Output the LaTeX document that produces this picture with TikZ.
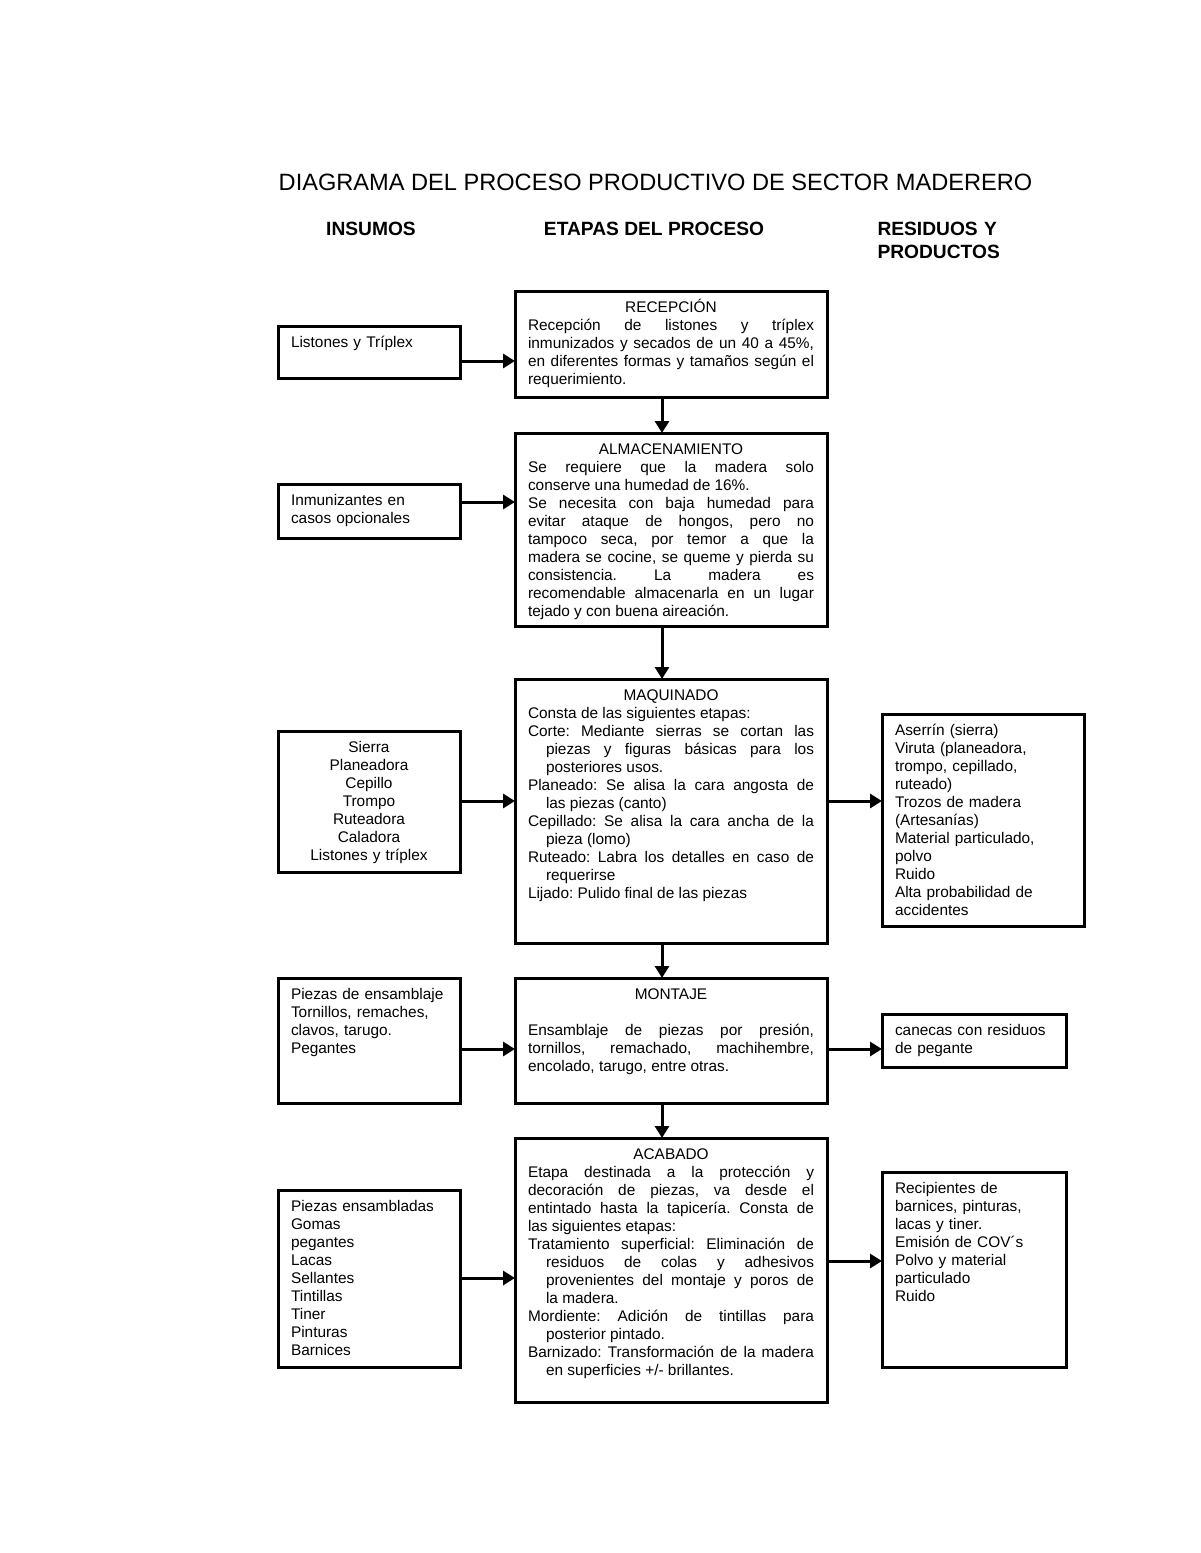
\documentclass[tikz,border=0pt]{standalone}
\usepackage{fontspec}
\setmainfont{Liberation Sans}
\usepackage{tikz}
\usetikzlibrary{positioning, arrows.meta}
\setlength{\parindent}{0pt}
\setlength{\parskip}{0pt}
\tolerance=10000
\hbadness=10000
\frenchspacing
\newcommand{\sangria}{\hangindent=9pt\hangafter=1\relax}

\begin{document}
\begin{tikzpicture}[x=0.5pt, y=-0.5pt, line width=1.5pt,
  etapa node/.style={rectangle,draw,text width=143pt,inner xsep=6.5pt,inner ysep=3.5pt,
    text height=7pt,outer sep=0pt,align=justify,font=\fontsize{7.7}{9}\selectfont},
  insumo node/.style={rectangle,draw,anchor=north west,text width=78pt,inner xsep=6.5pt,inner ysep=3.5pt,
    text height=7pt,outer sep=0pt,align=left,font=\fontsize{7.7}{9}\selectfont},
  residuo node/.style={insumo node,text width=79pt},
  encabezado/.style={inner sep=0pt,font=\fontsize{9.6}{11.5}\selectfont\bfseries},
  flecha/.style={-{Triangle[length=6pt,width=7pt]},line width=1.5pt}]

\useasboundingbox (0,0) rectangle (1200,1553);

% titulos
\node[inner sep=0pt, anchor=base, font=\fontsize{11.8}{14}\selectfont] (titulo) at (655.5,190) {DIAGRAMA DEL PROCESO PRODUCTIVO DE SECTOR MADERERO};
\node[encabezado, anchor=base] (hinsumos) at (371,235) {INSUMOS};
\node[encabezado, anchor=base] (hetapas) at (654,235) {ETAPAS DEL PROCESO};
\node[encabezado, anchor=base west, text width=80pt, align=left] (hresiduos) at (876,235) {RESIDUOS Y\\PRODUCTOS};

% etapas del proceso
\node[etapa node, anchor=north west, text depth=39pt] (rec) at (515,291) {\centerline{RECEPCIÓN}
Recepción de listones y tríplex\linebreak
inmunizados y secados de un 40 a 45\%,\linebreak
en diferentes formas y tamaños según el\linebreak
requerimiento.\par};
\node[etapa node, text depth=82.5pt] (alm) [below=18pt of rec] {\centerline{ALMACENAMIENTO}
Se requiere que la madera solo\linebreak
conserve una humedad de 16\%.\par
Se necesita con baja humedad para\linebreak
evitar ataque de hongos, pero no\linebreak
tampoco seca, por temor a que la\linebreak
madera se cocine, se queme y pierda su\linebreak
consistencia. La madera es\linebreak
recomendable almacenarla en un lugar\linebreak
tejado y con buena aireación.\par};
\node[etapa node, text depth=118pt] (maq) [below=26.5pt of alm] {\centerline{MAQUINADO}
Consta de las siguientes etapas:\par
\sangria Corte: Mediante sierras se cortan las\linebreak
piezas y figuras básicas para los\linebreak
posteriores usos.\par
\sangria Planeado: Se alisa la cara angosta de\linebreak
las piezas (canto)\par
\sangria Cepillado: Se alisa la cara ancha de la\linebreak
pieza (lomo)\par
\sangria Ruteado: Labra los detalles en caso de\linebreak
requerirse\par
\sangria Lijado: Pulido final de las piezas\par};
\node[etapa node, text depth=48.5pt] (mon) [below=17.5pt of maq] {\centerline{MONTAJE}\vskip9pt
Ensamblaje de piezas por presión,\linebreak
tornillos, remachado, machihembre,\linebreak
encolado, tarugo, entre otras.\par};
\node[etapa node, text depth=118pt] (aca) [below=17.5pt of mon] {\centerline{ACABADO}
Etapa destinada a la protección y\linebreak
decoración de piezas, va desde el\linebreak
entintado hasta la tapicería. Consta de\linebreak
las siguientes etapas:\par
\sangria Tratamiento superficial: Eliminación de\linebreak
residuos de colas y adhesivos\linebreak
provenientes del montaje y poros de\linebreak
la madera.\par
\sangria Mordiente: Adición de tintillas para\linebreak
posterior pintado.\par
\sangria Barnizado: Transformación de la madera\linebreak
en superficies +/- brillantes.\par};

% insumos
\node[insumo node, text depth=12pt] (in1) at (278,326) {Listones y Tríplex};
\node[insumo node, text depth=13pt] (in2) at (278,484) {Inmunizantes en\\casos opcionales};
\node[insumo node, text depth=56.5pt, align=center] (in3) at (278,731) {Sierra\\Planeadora\\Cepillo\\Trompo\\Ruteadora\\Caladora\\Listones y tríplex};
\node[insumo node, text depth=48.5pt] (in4) at (278,978) {Piezas de ensamblaje\\Tornillos, remaches,\\clavos, tarugo.\\Pegantes};
\node[insumo node, text depth=74.5pt] (in5) at (278,1190) {Piezas ensambladas\\Gomas\\pegantes\\Lacas\\Sellantes\\Tintillas\\Tiner\\Pinturas\\Barnices};

% residuos y productos
\node[residuo node, text width=88pt, text depth=92pt] (out1) at (882,714) {Aserrín (sierra)\\Viruta (planeadora,\\trompo, cepillado,\\ruteado)\\Trozos de madera\\(Artesanías)\\Material particulado,\\polvo\\Ruido\\Alta probabilidad de\\accidentes};
\node[residuo node, text depth=12.5pt] (out2) at (882,1014) {canecas con residuos\\de pegante};
\node[residuo node, text depth=83.5pt] (out3) at (882,1172) {Recipientes de\\barnices, pinturas,\\lacas y tiner.\\Emisión de COV´s\\Polvo y material\\particulado\\Ruido};

\path[flecha]
([xshift=-4.5pt]rec.south) edge ([xshift=-4.5pt]alm.north)
([xshift=-4.5pt]alm.south) edge ([xshift=-4.5pt]maq.north)
([xshift=-4.5pt]maq.south) edge ([xshift=-4.5pt]mon.north)
([xshift=-4.5pt]mon.south) edge ([xshift=-4.5pt]aca.north)
([yshift=-4.5pt]in1.east) edge ([yshift=-8.5pt]rec.west)
([yshift=4.5pt]in2.east) edge ([yshift=13.75pt]alm.west)
([yshift=0.25pt]in3.east) edge ([yshift=5pt]maq.west)
([yshift=-4.25pt]in4.east) edge ([yshift=-4.25pt]mon.west)
([yshift=0.25pt]in5.east) edge ([yshift=-4pt]aca.west)
([yshift=5pt]maq.east) edge ([yshift=9.5pt]out1.west)
([yshift=-4.25pt]mon.east) edge ([yshift=-4.25pt]out2.west)
([yshift=4.5pt]aca.east) edge ([yshift=4.25pt]out3.west)
;
\end{tikzpicture}
\end{document}
